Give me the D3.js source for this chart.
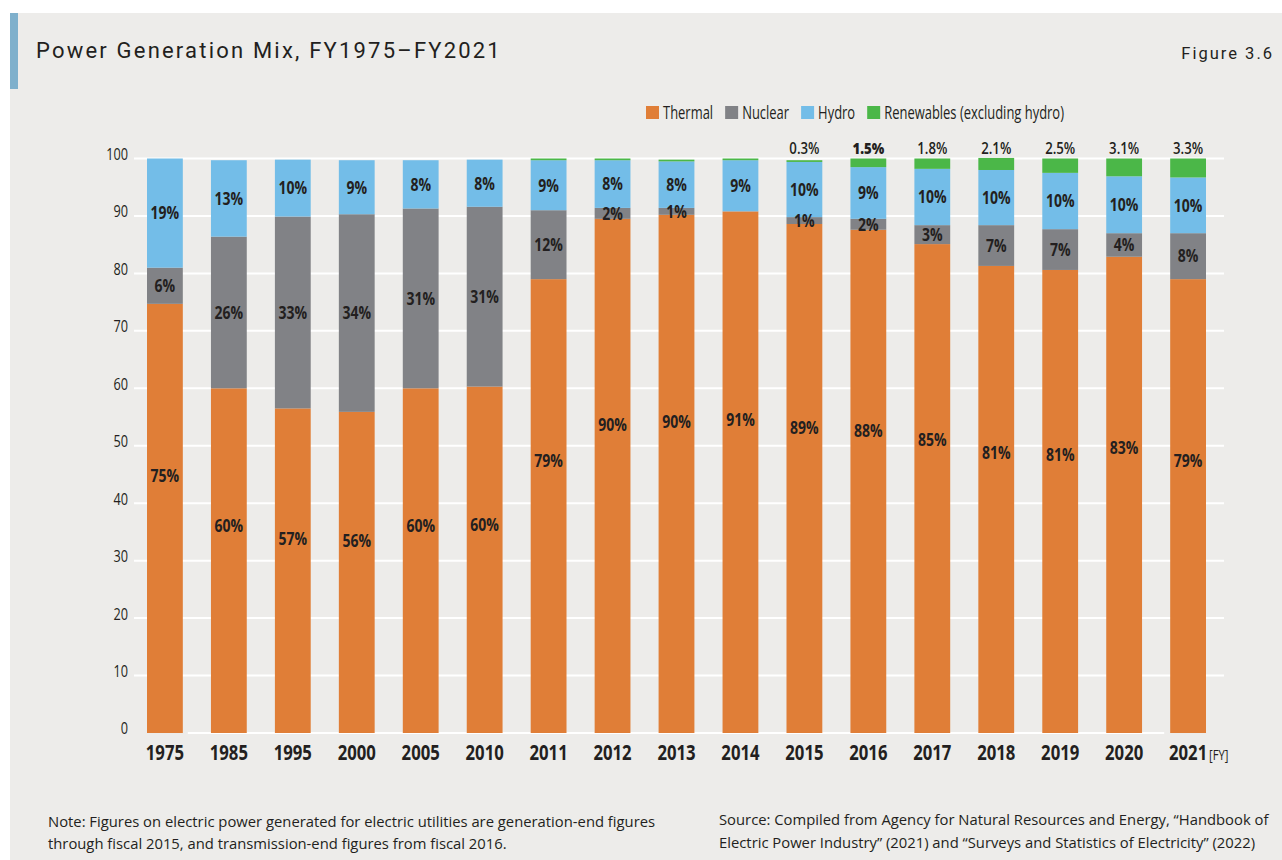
<!DOCTYPE html>
<html>
<head>
<meta charset="utf-8">
<script src="https://cdn.jsdelivr.net/npm/d3@7"></script>
<style>
  body { margin: 0; background: #fff; }
  svg { display: block; }
  text { fill: #231f20; }
</style>
</head>
<body>
<svg width="1282" height="860"></svg>
<script>
const years = ['1975','1985','1995','2000','2005','2010','2011','2012','2013','2014','2015','2016','2017','2018','2019','2020','2021']
const thermal = [74.7, 60.0, 56.5, 55.9, 60.0, 60.3, 79.0, 89.5, 90.2, 90.8, 88.6, 87.6, 85.1, 81.3, 80.6, 82.9, 79.0]
const nuclear = [6.3, 26.4, 33.4, 34.4, 31.3, 31.3, 12.0, 1.9, 1.2, 0, 1.2, 1.9, 3.3, 7.1, 7.1, 4.1, 8.0]
const hydro = [19.0, 13.3, 9.9, 9.4, 8.4, 8.2, 8.7, 8.3, 8.1, 8.9, 9.6, 9.0, 9.8, 9.6, 9.8, 9.9, 9.7]
const renewables = [0, 0, 0, 0, 0, 0, 0.3, 0.3, 0.3, 0.3, 0.3, 1.5, 1.8, 2.1, 2.5, 3.1, 3.3]
const yTicks = [0, 10, 20, 30, 40, 50, 60, 70, 80, 90, 100]
const seriesNames = ['Thermal', 'Nuclear', 'Hydro', 'Renewables (excluding hydro)']
const topLabelFrom = '2015'

const keys = ['thermal', 'nuclear', 'hydro', 'renew']
const colors = { thermal: '#e07e37', nuclear: '#818286', hydro: '#73bde8', renew: '#4bb748' }
const font = "'Open Sans', sans-serif"

const width = 1282, height = 860
const svg = d3.select('svg')

// squeeze text horizontally to get the condensed look
function squeeze(sel, sx) {
  sel.each(function () {
    const t = d3.select(this)
    const x0 = +t.attr('x') || 0, y0 = +t.attr('y') || 0
    t.attr('x', null).attr('y', null)
      .attr('transform', `translate(${x0},${y0}) scale(${sx},1)`)
  })
}

// panel
svg.append('rect').attr('x', 10).attr('y', 13).attr('width', width - 10).attr('height', height - 13).attr('fill', '#edecea')
svg.append('rect').attr('x', 10).attr('y', 13).attr('width', 8).attr('height', 76).attr('fill', '#7fb0cc')

svg.append('text').attr('x', 36).attr('y', 58)
  .style('font-family', 'Roboto').style('font-size', '22px').style('letter-spacing', '2.2px')
  .text('Power Generation Mix, FY1975\u2013FY2021')
svg.append('text').attr('x', 1274).attr('y', 59).attr('text-anchor', 'end')
  .style('font-family', 'Roboto').style('font-size', '16.5px').style('letter-spacing', '2px')
  .text('Figure 3.6')

const x = d3.scaleBand().domain(years).range([147, 1206]).paddingInner(0.44).paddingOuter(0)
const y = d3.scaleLinear().domain([0, 100]).range([733, 158.5])
const bw = x.bandwidth()

// grid
const gridL = 134, gridR = 1224
svg.append('g').selectAll('line')
  .data(yTicks).enter().append('line')
  .attr('x1', d => d === 0 ? x(years[0]) + bw + 5 : gridL)
  .attr('x2', d => d === 0 ? x(years[years.length - 1]) - 6 : gridR)
  .attr('y1', d => y(d)).attr('y2', d => y(d))
  .attr('stroke', '#fff').attr('stroke-width', 2)

// y axis labels
const yAxis = svg.append('g').attr('transform', `translate(${gridL},-4)`)
  .call(d3.axisLeft(y).tickValues(yTicks).tickSize(0).tickPadding(6))
yAxis.select('.domain').remove()
yAxis.selectAll('text').style('font-family', font).style('font-size', '15.5px').attr('fill', '#231f20')
squeeze(yAxis.selectAll('text'), 0.82)

// bars
const rows = years.map((yr, i) => ({ year: yr, thermal: thermal[i], nuclear: nuclear[i], hydro: hydro[i], renew: renewables[i] }))
const stacked = d3.stack().keys(keys)(rows)

const layers = svg.append('g').selectAll('g')
  .data(stacked).enter().append('g')
  .attr('fill', d => colors[d.key])

layers.selectAll('rect')
  .data(d => d).enter().append('rect')
  .attr('x', d => x(d.data.year))
  .attr('width', bw)
  .attr('y', d => y(d[1]))
  .attr('height', d => y(d[0]) - y(d[1]))

// value labels inside bars
const labels = svg.append('g')
stacked.filter(s => s.key !== 'renew').forEach(s => {
  labels.selectAll(null)
    .data(s.filter(d => d[1] - d[0] >= 0.5)).enter().append('text')
    .attr('x', d => x(d.data.year) + bw / 2)
    .attr('y', d => {
      const top = y(d[1]), bot = y(d[0])
      return s.key === 'thermal' ? top + (bot - top) * 0.4 : (top + bot) / 2
    })
    .attr('dy', '0.36em')
    .attr('text-anchor', 'middle')
    .style('font-family', font).style('font-size', '17.5px').style('font-weight', 700)
    .text(d => Math.round(d[1] - d[0]) + '%')
})
squeeze(labels.selectAll('text'), 0.8)

// renewables labels above bars
const topLabels = svg.append('g').selectAll('text')
  .data(rows.filter(r => r.year >= topLabelFrom)).enter().append('text')
  .attr('x', d => x(d.year) + bw / 2)
  .attr('y', y(100) - 4.5)
  .attr('text-anchor', 'middle')
  .style('font-family', font).style('font-size', '16.5px')
  .style('font-weight', d => d.year === '2016' ? 800 : 600)
  .text(d => d.renew.toFixed(1) + '%')
squeeze(topLabels, 0.8)

// x axis
const xAxis = svg.append('g').attr('transform', `translate(0,${y(0)})`)
  .call(d3.axisBottom(x).tickSize(0).tickPadding(11))
xAxis.select('.domain').remove()
xAxis.selectAll('text').style('font-family', font).style('font-size', '22px').style('font-weight', 700).attr('fill', '#231f20')
squeeze(xAxis.selectAll('text'), 0.76)

const fy = svg.append('text').attr('x', x(years[years.length - 1]) + bw + 3).attr('y', 760)
  .style('font-family', font).style('font-size', '15px').attr('fill', '#3a3a3a')
  .text('[FY]')
squeeze(fy, 0.75)

// legend
const legend = svg.append('g')
let lx = 646
keys.forEach((k, i) => {
  legend.append('rect').attr('x', lx).attr('y', 106).attr('width', 13).attr('height', 13).attr('fill', colors[k])
  const t = legend.append('text').attr('x', lx + 17).attr('y', 119)
    .style('font-family', font).style('font-size', '18px')
    .text(seriesNames[i])
  const w = t.node().getComputedTextLength() * 0.72
  squeeze(t, 0.72)
  lx += 17 + w + 12
})

// notes
const noteLines = [
  'Note: Figures on electric power generated for electric utilities are generation-end figures',
  'through fiscal 2015, and transmission-end figures from fiscal 2016.'
]
const sourceLines = [
  'Source: Compiled from Agency for Natural Resources and Energy, \u201CHandbook of',
  'Electric Power Industry\u201D (2021) and \u201CSurveys and Statistics of Electricity\u201D (2022)'
]
const notes = svg.append('g')
notes.selectAll(null).data(noteLines).enter().append('text')
  .attr('x', 48).attr('y', (d, i) => 827 + i * 22)
  .style('font-family', font).style('font-size', '14.8px')
  .text(d => d)
notes.selectAll(null).data(sourceLines).enter().append('text')
  .attr('x', 719).attr('y', (d, i) => 825 + i * 23)
  .style('font-family', font).style('font-size', '14.8px')
  .text(d => d)
squeeze(notes.selectAll('text'), 1.0)
</script>
</body>
</html>
